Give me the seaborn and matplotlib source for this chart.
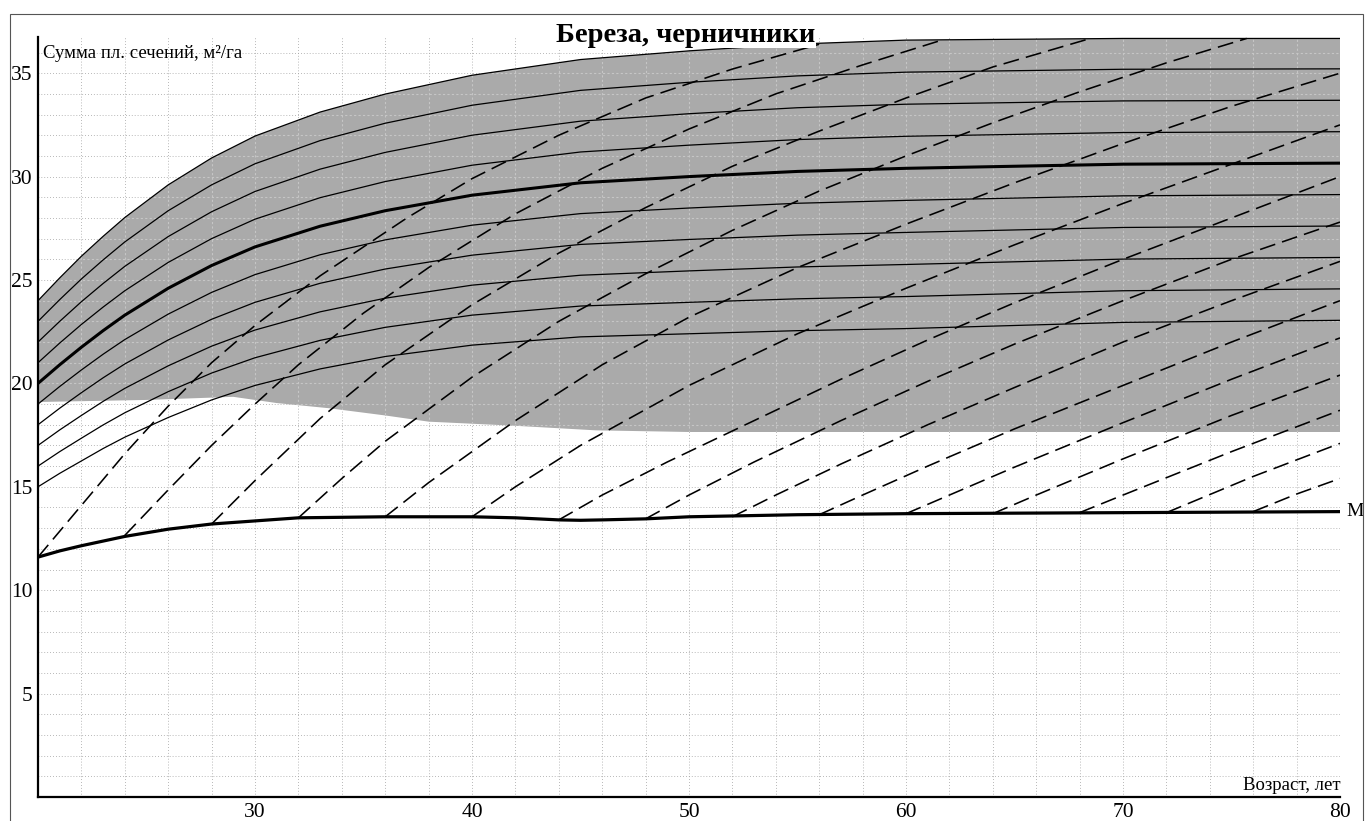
import matplotlib
matplotlib.use("Agg")
import matplotlib.pyplot as plt
import seaborn as sns
import numpy as np
from matplotlib.patches import Rectangle

sns.set_style("white")
plt.rcParams["font.family"] = ["Liberation Serif", "DejaVu Serif"]
plt.rcParams["text.color"] = "black"

# ---------------------------------------------------------------------------
# basal-area growth curves (solid)
# ---------------------------------------------------------------------------
age = [20, 21, 22, 23, 24, 26, 28, 30, 33, 36, 40, 45, 50, 55, 60, 70, 80]
ba_24 = [24.0, 25.1, 26.15, 27.11, 28.02, 29.6, 30.9, 31.96, 33.12, 33.99, 34.9, 35.66, 36.08, 36.41, 36.6, 36.68, 36.68]
ba_23 = [23.0, 24.05, 25.05, 25.97, 26.84, 28.35, 29.6, 30.62, 31.74, 32.58, 33.45, 34.17, 34.56, 34.87, 35.05, 35.19, 35.21]
ba_22 = [22.0, 23.0, 23.95, 24.83, 25.66, 27.1, 28.3, 29.28, 30.36, 31.17, 32.0, 32.68, 33.04, 33.33, 33.5, 33.66, 33.69]
ba_21 = [21.0, 21.95, 22.85, 23.69, 24.48, 25.85, 27.0, 27.94, 28.98, 29.76, 30.55, 31.19, 31.52, 31.79, 31.95, 32.13, 32.17]
ba_20 = [20.0, 20.9, 21.75, 22.55, 23.3, 24.6, 25.7, 26.6, 27.6, 28.35, 29.1, 29.7, 30.0, 30.25, 30.4, 30.6, 30.65]
ba_19 = [19.0, 19.85, 20.65, 21.41, 22.12, 23.35, 24.4, 25.26, 26.22, 26.94, 27.65, 28.21, 28.48, 28.71, 28.85, 29.07, 29.13]
ba_18 = [18.0, 18.8, 19.55, 20.27, 20.94, 22.1, 23.1, 23.92, 24.84, 25.53, 26.2, 26.72, 26.96, 27.17, 27.3, 27.54, 27.61]
ba_17 = [17.0, 17.75, 18.45, 19.13, 19.76, 20.85, 21.8, 22.58, 23.46, 24.12, 24.75, 25.23, 25.44, 25.63, 25.75, 26.01, 26.09]
ba_16 = [16.0, 16.7, 17.35, 17.99, 18.58, 19.6, 20.5, 21.24, 22.08, 22.71, 23.3, 23.74, 23.92, 24.09, 24.2, 24.48, 24.57]
ba_15 = [15.0, 15.65, 16.25, 16.85, 17.4, 18.35, 19.2, 19.9, 20.7, 21.3, 21.85, 22.25, 22.4, 22.55, 22.65, 22.95, 23.05]

# lower edge of the shaded band
band_age = [20, 25, 29, 31, 33.4, 36, 38, 42, 45.7, 50, 80]
band_low = [19.1, 19.2, 19.35, 19.05, 18.8, 18.45, 18.15, 17.95, 17.73, 17.65, 17.65]

# minimum basal area line "М"
m_age = [20, 21, 22, 24, 26, 28, 30, 32, 36, 40, 42, 44, 45, 46, 48, 50, 55, 60, 70, 80]
m_ba = [11.6, 11.9, 12.15, 12.6, 12.95, 13.2, 13.35, 13.5, 13.55, 13.55, 13.5, 13.4, 13.38,
        13.4, 13.45, 13.55, 13.65, 13.7, 13.75, 13.8]

# dashed lines, each starts on the М line
d20_age = [20, 22, 24, 26, 28, 30, 33, 37, 40, 44, 48, 52, 56]
d20_ba = [11.6, 14.1, 16.6, 18.9, 21.0, 22.8, 25.2, 28.0, 29.9, 32.0, 33.8, 35.2, 36.4]
d24_age = [24, 26, 28, 30, 32, 35, 38, 42, 46, 50, 54, 58, 61.5]
d24_ba = [12.65, 14.85, 17.0, 19.0, 20.9, 23.4, 25.6, 28.2, 30.4, 32.3, 34.0, 35.4, 36.55]
d28_age = [28, 30, 33, 36, 40, 44, 48, 52, 56, 60, 64, 68.4]
d28_ba = [13.2, 15.3, 18.3, 20.9, 23.8, 26.3, 28.5, 30.5, 32.2, 33.8, 35.3, 36.65]
d32_age = [32, 34, 36, 40, 44, 48, 52, 56, 60, 64, 68, 72, 75.7]
d32_ba = [13.5, 15.4, 17.2, 20.3, 23.0, 25.3, 27.4, 29.3, 31.0, 32.6, 34.1, 35.5, 36.68]
d36_age = [36, 38, 42, 46, 50, 55, 60, 65, 70, 75, 80]
d36_ba = [13.55, 15.2, 18.2, 20.9, 23.2, 25.6, 27.7, 29.7, 31.6, 33.4, 35.0]
d40_age = [40, 42, 45, 50, 55, 60, 65, 70, 75, 80]
d40_ba = [13.55, 15.0, 17.0, 19.9, 22.4, 24.6, 26.7, 28.7, 30.6, 32.5]
d44_age = [44, 46, 49, 53, 57, 61, 65, 70, 75, 80]
d44_ba = [13.4, 14.6, 16.2, 18.2, 20.2, 22.1, 23.9, 26.0, 28.0, 30.0]
d48_age = [48, 50, 53, 57, 61, 65, 70, 75, 80]
d48_ba = [13.45, 14.6, 16.2, 18.2, 20.1, 21.9, 24.0, 26.0, 27.8]
d52_age = [52, 54, 57, 61, 65, 70, 75, 80]
d52_ba = [13.55, 14.6, 16.1, 18.0, 19.8, 22.0, 24.0, 25.9]
d56_age = [56, 58, 61, 65, 70, 75, 80]
d56_ba = [13.65, 14.6, 16.0, 17.8, 19.9, 22.0, 24.0]
d60_age = [60, 62, 65, 70, 75, 80]
d60_ba = [13.7, 14.6, 15.95, 18.1, 20.2, 22.2]
d64_age = [64, 66, 70, 75, 80]
d64_ba = [13.7, 14.6, 16.35, 18.45, 20.4]
d68_age = [68, 70, 75, 80]
d68_ba = [13.75, 14.6, 16.7, 18.7]
d72_age = [72, 76, 80]
d72_ba = [13.75, 15.5, 17.1]
d76_age = [76, 78, 80]
d76_ba = [13.8, 14.65, 15.4]

x_ticks = [30, 40, 50, 60, 70, 80]
y_ticks = [5, 10, 15, 20, 25, 30, 35]

# ---------------------------------------------------------------------------
W, H = 1365, 821
fig = plt.figure(figsize=(W / 100, H / 100), dpi=100)
ax = fig.add_axes([38 / W, 1 - 797 / H, (1340 - 38) / W, (797 - 37) / H])
ax.set_xlim(20, 80)
ax.set_ylim(0, 36.75)

grid_x = np.arange(22, 80, 2)
grid_y = np.arange(1, 37, 1)

# faint dotted grid
ax.vlines(grid_x, 0, 36.75, colors="#a0a0a0", lw=0.6, linestyles=(0, (1, 2.5)), zorder=0.5)
ax.hlines(grid_y, 20, 80, colors="#a0a0a0", lw=0.6, linestyles=(0, (1, 2.5)), zorder=0.5)

# shaded band
band = ax.fill(list(age) + band_age[::-1], list(ba_24) + band_low[::-1],
               color="#aaaaaa", lw=0, zorder=1)[0]

# lighter grid showing through the band
gv = ax.vlines(grid_x, 0, 36.75, colors="#c6c6c6", lw=0.8, linestyles=(0, (2, 2)), zorder=1.2)
gh = ax.hlines(grid_y, 20, 80, colors="#c6c6c6", lw=0.8, linestyles=(0, (2, 2)), zorder=1.2)
gv.set_clip_path(band)
gh.set_clip_path(band)

# solid curves
for curve in [ba_24, ba_23, ba_22, ba_21, ba_19, ba_18, ba_17, ba_16, ba_15]:
    sns.lineplot(x=age, y=curve, ax=ax, color="black", lw=0.9,
                 estimator=None, sort=False, zorder=3)
sns.lineplot(x=age, y=ba_20, ax=ax, color="black", lw=2.2,
             estimator=None, sort=False, zorder=3)

# dashed curves
dashed = [(d20_age, d20_ba), (d24_age, d24_ba), (d28_age, d28_ba), (d32_age, d32_ba),
          (d36_age, d36_ba), (d40_age, d40_ba), (d44_age, d44_ba), (d48_age, d48_ba),
          (d52_age, d52_ba), (d56_age, d56_ba), (d60_age, d60_ba), (d64_age, d64_ba),
          (d68_age, d68_ba), (d72_age, d72_ba), (d76_age, d76_ba)]
for xs, ys in dashed:
    sns.lineplot(x=xs, y=ys, ax=ax, color="black", lw=1.15, linestyle=(0, (10, 4.5)),
                 estimator=None, sort=False, zorder=2.5)

# М line
sns.lineplot(x=m_age, y=m_ba, ax=ax, color="black", lw=2.3,
             estimator=None, sort=False, zorder=3)
ax.text(80.3, 13.8, "М", fontsize=14, va="center", ha="left", clip_on=False)

# axes styling
for side in ["top", "right"]:
    ax.spines[side].set_visible(False)
for side in ["left", "bottom"]:
    ax.spines[side].set_color("black")
    ax.spines[side].set_linewidth(1.6)
ax.set_xticks(x_ticks)
ax.set_yticks(y_ticks)
ax.set_xticks([25, 35, 45, 55, 65, 75], minor=True)
ax.set_yticks(np.arange(2, 37, 2), minor=True)
ax.tick_params(which="major", direction="inout", length=6, width=1.2,
               labelsize=15.5, pad=1, colors="black")
ax.tick_params(which="minor", direction="inout", length=4, width=1.0, colors="black")
ax.set_xlabel("")
ax.set_ylabel("")

ax.text(20.23, 35.95, "Сумма пл. сечений, м²/га", fontsize=13.5, va="center", ha="left")
ax.text(80.05, 0.35, "Возраст, лет", fontsize=13.5, va="baseline", ha="right")

fig.text(686 / W, 1 - 35 / H, "Береза, черничники", fontsize=20.5, fontweight="bold",
         ha="center", va="center", zorder=10,
         bbox=dict(facecolor="white", edgecolor="none", pad=0.5))

# outer frame of the figure
fig.add_artist(Rectangle((10 / W, -0.05), (1363 - 10) / W, (H - 14) / H + 0.05,
                         transform=fig.transFigure, fill=False,
                         edgecolor="#555555", lw=0.8))

fig.savefig("out.png", dpi=100)
